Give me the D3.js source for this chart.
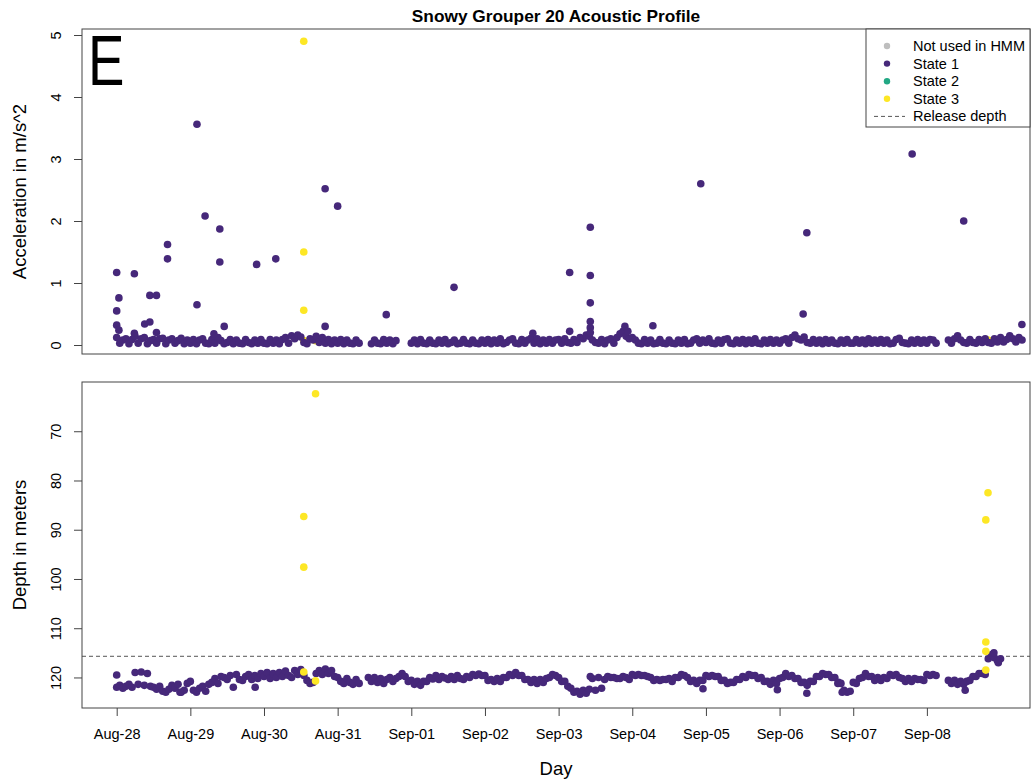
<!DOCTYPE html>
<html>
<head>
<meta charset="utf-8">
<script src="https://cdn.jsdelivr.net/npm/d3@7/dist/d3.min.js"></script>
<style>
body { margin: 0; background: #fff; }
text { font-family: "Liberation Sans", Arial, sans-serif; fill: #000; }
</style>
</head>
<body>
<div id="chart"></div>
<script>
// hourly samples starting Aug-28 00:00, one row per day
var startDate = new Date(2020, 7, 28);
var stepHours = 1;

var depthState1 = [
  122, 121.6, 122.2, 121.8, 121.4, 122, 119, 121.4, 118.9, 121.6, 119.2, 121.8, 122, 122.4, 121.8, 122.8, 123, 122.4, 121.6, 122.2, 121.4, 123, 122.6, 121.2,
  120.8, 122.6, 123, 122.2, 121.8, 122.8, 121.4, 121, 120.2, 121.2, 119.8, 120, 120.4, 119.6, 122, 119.4, 120.4, 120.6, 119.8, 119.4, 120.4, 119.6, 120.2, 119.2,
  119.8, 119, 120.2, 119.2, 120, 119, 119.8, 118.7, 119.6, 120, 118.6, 119.4, 118.4, 119.6, 120.6, 121.2, 121, 119.2, 118.6, 119.4, 118.3, 119.2, 118.6, 119.8,
  120, 120.8, 121.2, 120.2, 121, 121.4, 120.4, 121.2, null, null, 120, 120.8, 120, 121, 120.2, 121.2, 120.4, 120, 120.8, 120.2, 119.8, 119.2, 119.8, 120.8,
  120.6, 121.4, 120.8, 121.6, 120.8, 120.8, 120, 120.3, 119.6, 120.4, 119.8, 120.1, 120.4, 119.8, 120.4, 119.6, 120.2, 120.4, 119.8, 120, 119.4, 119.6, 119.3, 119.6,
  119.6, 120.6, 120.4, 120.8, 120.2, 120.8, 120, 120, 119.4, 119.6, 119, 119.6, 119.6, 120.4, 120.4, 121, 120.4, 121.2, 120.4, 121, 120.2, 120, 119.4, 119.6,
  120, 120.8, 120.8, 121.8, 122.2, 123, 122.8, 123.4, 122.6, 123.2, 122.4, 120.2, 122.6, 120, 122.2, 120.4, 119.8, 120, 120, 120.2, 120.2, 119.8, 120, 120.4,
  119.4, 119.6, 119.4, 119.6, 119.6, 119.8, 120, 120.6, 120.4, 120.6, 120.4, 120.4, 120.2, 120.8, 120, 120, 119.4, 119.6, 120, 120.8, 120.6, 121.2, 120.6, 120.6,
  119.6, 119.8, 119.6, 119.8, 119.8, 120.6, 120.6, 121.2, 121, 121, 120.4, 120.4, 119.8, 120, 119.4, 119.6, 119.6, 120.2, 120, 120.8, 120.8, 121.4, 120.6, 121.2,
  120.2, 120, 119.2, 119.8, 119.6, 120.2, 120.2, 121, 121, 121.6, 120.8, 120.8, 119.8, 119.8, 119.2, 119.4, 119.4, 120, 120, 121.2, 121.2, 122.6, 123, 122.8,
  121, 121.2, 120.2, 120, 119.2, 119.8, 119.8, 120.6, 120, 120.6, 120, 120.2, 119.4, 119.6, 119.4, 120, 120.2, 120.8, 120.2, 120.8, 120.2, 120.4, 120.4, 120.6,
  119.4, 119.6, 119.4, 119.6, null, null, null, 120.6, 121.2, 120.6, 121.4, 120.8, 121.4, 120.8, 120.6, 119.8, 119.8, 119.2, 119.2, 119.4, 116.2, 115.4, 116, 116.6,
  116.2
];

var accelState1 = [
  0.12, 0.03, 0.08, 0.10, 0.02, 0.09, 0.14, 0.03, 0.10, 0.12, 0.02, 0.07, 0.09, 0.03, 0.10, 0.11, 0.02, 0.08, 0.10, 0.03, 0.07, 0.11, 0.02, 0.08,
  0.03, 0.09, 0.02, 0.08, 0.10, 0.03, 0.02, 0.09, 0.03, 0.12, 0.07, 0.02, 0.04, 0.09, 0.02, 0.08, 0.03, 0.02, 0.09, 0.04, 0.02, 0.08, 0.03, 0.09,
  0.03, 0.02, 0.09, 0.03, 0.08, 0.02, 0.09, 0.12, 0.03, 0.15, 0.10, 0.16, 0.13, 0.04, 0.02, 0.10, 0.08, 0.14, 0.04, 0.12, 0.03, 0.09, 0.02, 0.08,
  0.03, 0.09, 0.02, 0.08, 0.03, 0.02, 0.08, 0.03, null, null, null, 0.02, 0.08, 0.03, 0.02, 0.09, 0.03, 0.08, 0.02, 0.07, null, null, null, null,
  0.03, 0.08, 0.02, 0.09, 0.03, 0.02, 0.08, 0.03, 0.02, 0.08, 0.03, 0.09, 0.02, 0.04, 0.08, 0.02, 0.03, 0.09, 0.03, 0.02, 0.08, 0.03, 0.02, 0.08,
  0.03, 0.09, 0.02, 0.08, 0.03, 0.10, 0.02, 0.04, 0.08, 0.10, 0.03, 0.02, 0.09, 0.03, 0.08, 0.11, 0.03, 0.10, 0.02, 0.08, 0.03, 0.09, 0.03, 0.08,
  0.09, 0.03, 0.10, 0.04, 0.03, 0.09, 0.04, 0.12, 0.10, 0.16, 0.14, 0.08, 0.04, 0.03, 0.09, 0.02, 0.08, 0.10, 0.03, 0.12, 0.18, 0.22, 0.14, 0.10,
  0.12, 0.08, 0.03, 0.02, 0.09, 0.03, 0.08, 0.02, 0.03, 0.09, 0.03, 0.02, 0.08, 0.03, 0.02, 0.08, 0.03, 0.09, 0.02, 0.03, 0.08, 0.10, 0.03, 0.08,
  0.04, 0.10, 0.03, 0.02, 0.08, 0.03, 0.09, 0.10, 0.03, 0.02, 0.08, 0.03, 0.09, 0.02, 0.08, 0.03, 0.10, 0.03, 0.02, 0.08, 0.03, 0.09, 0.03, 0.08,
  0.03, 0.08, 0.10, 0.03, 0.12, 0.16, 0.10, 0.08, 0.13, 0.04, 0.03, 0.09, 0.03, 0.08, 0.02, 0.09, 0.03, 0.08, 0.03, 0.02, 0.08, 0.03, 0.09, 0.03,
  0.03, 0.09, 0.03, 0.08, 0.02, 0.10, 0.03, 0.08, 0.03, 0.09, 0.03, 0.08, 0.02, 0.03, 0.09, 0.11, 0.04, 0.03, 0.02, 0.08, 0.03, 0.09, 0.03, 0.08,
  0.03, 0.09, 0.08, 0.03, null, null, null, 0.08, 0.03, 0.10, 0.15, 0.08, 0.04, 0.03, 0.09, 0.04, 0.03, 0.09, 0.04, 0.10, 0.04, 0.03, 0.10, 0.05,
  0.12, 0.05, 0.09, 0.15, 0.10, 0.05, 0.12, 0.08
];

// [day offset, value] for the points off the main band
var accelSpikes = [
  [0.00, 1.17], [0.00, 0.55], [0.00, 0.32], [0.03, 0.76], [0.03, 0.24],
  [0.24, 1.15], [0.24, 0.19], [0.38, 0.34], [0.45, 0.37], [0.45, 0.80],
  [0.54, 0.80], [0.54, 0.20], [0.69, 1.62], [0.69, 1.39], [1.09, 3.56],
  [1.09, 0.65], [1.20, 2.08], [1.32, 0.18], [1.40, 1.34], [1.40, 1.87],
  [1.46, 0.30], [1.90, 1.30], [2.16, 1.39], [2.83, 2.52], [2.83, 0.30],
  [3.00, 2.24], [3.66, 0.49], [4.58, 0.93], [5.65, 0.19], [6.15, 1.17],
  [6.15, 0.22], [6.43, 1.90], [6.43, 1.12], [6.43, 0.68], [6.43, 0.38],
  [6.43, 0.28], [6.43, 0.20], [6.90, 0.30], [6.94, 0.22], [7.28, 0.31],
  [7.93, 2.60], [9.32, 0.50], [9.37, 1.81], [10.80, 3.08], [11.50, 2.00],
  [12.29, 0.33]
];

var depthExtra = [
  [0.00, 119.5], [0.86, 123], [1.88, 122], [6.43, 119.8],
  [7.96, 122.3], [8.97, 122.5], [9.37, 123.2], [9.80, 121], [9.85, 123], [11.52, 122.6],
  [11.91, 115], [11.97, 117]
];

var accelState3 = [
  [2.54, 4.90], [2.54, 1.50], [2.54, 0.56], [2.54, 0.07], [2.70, 0.07], [11.83, 0.08]
];

var depthState3 = [
  [2.70, 62.4], [2.54, 87.3], [2.54, 97.6], [2.54, 118.9], [2.70, 120.7],
  [11.83, 82.5], [11.80, 88.0], [11.80, 112.8], [11.80, 114.7], [11.80, 118.5]
];

var releaseDepth = 115.7;

var dayLabels = ["Aug-28", "Aug-29", "Aug-30", "Aug-31", "Sep-01", "Sep-02",
                 "Sep-03", "Sep-04", "Sep-05", "Sep-06", "Sep-07", "Sep-08"];
var accelTicks = [0, 1, 2, 3, 4, 5];
var depthTicks = [70, 80, 90, 100, 110, 120];

var legendLabels = ["Not used in HMM", "State 1", "State 2", "State 3", "Release depth"];
var stateColors = ["#bebebe", "#46287a", "#22a884", "#fde725"];

var svgWidth = 1033, svgHeight = 783;
var left = 82, right = 1030;
var top1 = 29, bottom1 = 354;
var top2 = 382, bottom2 = 708;
var r = 3.8;

function dayToDate(d) {
  return new Date(startDate.getTime() + d * 864e5);
}

var svg = d3.select("#chart").append("svg")
  .attr("width", svgWidth)
  .attr("height", svgHeight);

var xScale = d3.scaleTime()
  .domain([dayToDate(-0.471), dayToDate(12.4)])
  .range([left, right]);

var yAcc = d3.scaleLinear().domain([-0.145, 5.097]).range([bottom1, top1]);
var yDep = d3.scaleLinear().domain([60.0, 126.2]).range([top2, bottom2]);

var gridAcc = accelState1.map((v, i) => ({ t: dayToDate(i * stepHours / 24), v: v }))
  .filter(d => d.v !== null);
var gridDep = depthState1.map((v, i) => ({ t: dayToDate(i * stepHours / 24), v: v }))
  .filter(d => d.v !== null);

// title
svg.append("text")
  .attr("x", (left + right) / 2)
  .attr("y", 22)
  .attr("text-anchor", "middle")
  .attr("font-size", "17.3px")
  .attr("font-weight", "bold")
  .text("Snowy Grouper 20 Acoustic Profile");

// ---- top panel
var accGroup = svg.append("g");

accGroup.selectAll(".acc3")
  .data(accelState3)
  .enter()
  .append("circle")
  .attr("cx", d => xScale(dayToDate(d[0])))
  .attr("cy", d => yAcc(d[1]))
  .attr("r", r)
  .attr("fill", stateColors[3]);

accGroup.selectAll(".acc1")
  .data(gridAcc)
  .enter()
  .append("circle")
  .attr("cx", d => xScale(d.t))
  .attr("cy", d => yAcc(d.v))
  .attr("r", r)
  .attr("fill", stateColors[1]);

accGroup.selectAll(".spike")
  .data(accelSpikes)
  .enter()
  .append("circle")
  .attr("cx", d => xScale(dayToDate(d[0])))
  .attr("cy", d => yAcc(d[1]))
  .attr("r", r)
  .attr("fill", stateColors[1]);

var leftAcc = d3.axisLeft(yAcc).tickValues(accelTicks).tickFormat(d3.format("d"))
  .tickSize(8).tickSizeOuter(0);
var gAcc = svg.append("g")
  .attr("transform", `translate(${left},0)`)
  .call(leftAcc);

// ---- bottom panel
var depGroup = svg.append("g");

depGroup.append("line")
  .attr("x1", left).attr("x2", right)
  .attr("y1", yDep(releaseDepth)).attr("y2", yDep(releaseDepth))
  .attr("stroke", "#555")
  .attr("stroke-dasharray", "4,3");

depGroup.selectAll(".dep1")
  .data(gridDep)
  .enter()
  .append("circle")
  .attr("cx", d => xScale(d.t))
  .attr("cy", d => yDep(d.v))
  .attr("r", r)
  .attr("fill", stateColors[1]);

depGroup.selectAll(".depx")
  .data(depthExtra)
  .enter()
  .append("circle")
  .attr("cx", d => xScale(dayToDate(d[0])))
  .attr("cy", d => yDep(d[1]))
  .attr("r", r)
  .attr("fill", stateColors[1]);

depGroup.selectAll(".dep3")
  .data(depthState3)
  .enter()
  .append("circle")
  .attr("cx", d => xScale(dayToDate(d[0])))
  .attr("cy", d => yDep(d[1]))
  .attr("r", r)
  .attr("fill", stateColors[3]);

var leftDep = d3.axisLeft(yDep).tickValues(depthTicks).tickSize(8).tickSizeOuter(0);
var gDep = svg.append("g")
  .attr("transform", `translate(${left},0)`)
  .call(leftDep);

var bottomAxis = d3.axisBottom(xScale)
  .tickValues(dayLabels.map((d, i) => dayToDate(i)))
  .tickFormat((d, i) => dayLabels[i])
  .tickSize(8)
  .tickSizeOuter(0);
var gX = svg.append("g")
  .attr("transform", `translate(0,${bottom2})`)
  .call(bottomAxis);

[gAcc, gDep, gX].forEach(function(g) {
  g.select(".domain").remove();
  g.selectAll(".tick line").attr("stroke", "#444");
  g.selectAll(".tick text")
    .attr("font-family", "Liberation Sans, Arial, sans-serif")
    .attr("font-size", "14.5px")
    .attr("fill", "#000");
});

[gAcc, gDep].forEach(function(g) {
  g.selectAll(".tick text")
    .attr("x", 0)
    .attr("y", -21)
    .attr("dy", null)
    .attr("text-anchor", "middle")
    .attr("transform", "rotate(-90)");
});

gX.selectAll(".tick text")
  .attr("y", 31)
  .attr("dy", null);

// boxes
[[top1, bottom1], [top2, bottom2]].forEach(function(p) {
  svg.append("rect")
    .attr("x", left).attr("y", p[0])
    .attr("width", right - left).attr("height", p[1] - p[0])
    .attr("fill", "none")
    .attr("stroke", "#444");
});

// axis titles
svg.append("text")
  .attr("transform", `translate(26,${(top1 + bottom1) / 2}) rotate(-90)`)
  .attr("text-anchor", "middle")
  .attr("font-size", "18.5px")
  .text("Acceleration in m/s^2");

svg.append("text")
  .attr("transform", `translate(26,${(top2 + bottom2) / 2}) rotate(-90)`)
  .attr("text-anchor", "middle")
  .attr("font-size", "18.5px")
  .text("Depth in meters");

svg.append("text")
  .attr("x", (left + right) / 2)
  .attr("y", 775)
  .attr("text-anchor", "middle")
  .attr("font-size", "18.5px")
  .text("Day");

// panel letter
svg.append("text")
  .attr("transform", "translate(88,85) scale(0.78,1)")
  .attr("font-size", "70px")
  .text("E");

// legend
var legend = svg.append("g");
legend.append("rect")
  .attr("x", 866).attr("y", top1)
  .attr("width", right - 866).attr("height", 98)
  .attr("fill", "#fff")
  .attr("stroke", "#444");

legendLabels.forEach(function(lab, i) {
  var cy = 46 + i * 17.6;
  if (i < 4) {
    legend.append("circle")
      .attr("cx", 887).attr("cy", cy).attr("r", r - 0.6)
      .attr("fill", stateColors[i]);
  } else {
    legend.append("line")
      .attr("x1", 874).attr("x2", 905)
      .attr("y1", cy).attr("y2", cy)
      .attr("stroke", "#555")
      .attr("stroke-dasharray", "4,3");
  }
  legend.append("text")
    .attr("x", 913)
    .attr("y", cy + 5)
    .attr("font-size", "14.5px")
    .text(lab);
});
</script>
</body>
</html>
